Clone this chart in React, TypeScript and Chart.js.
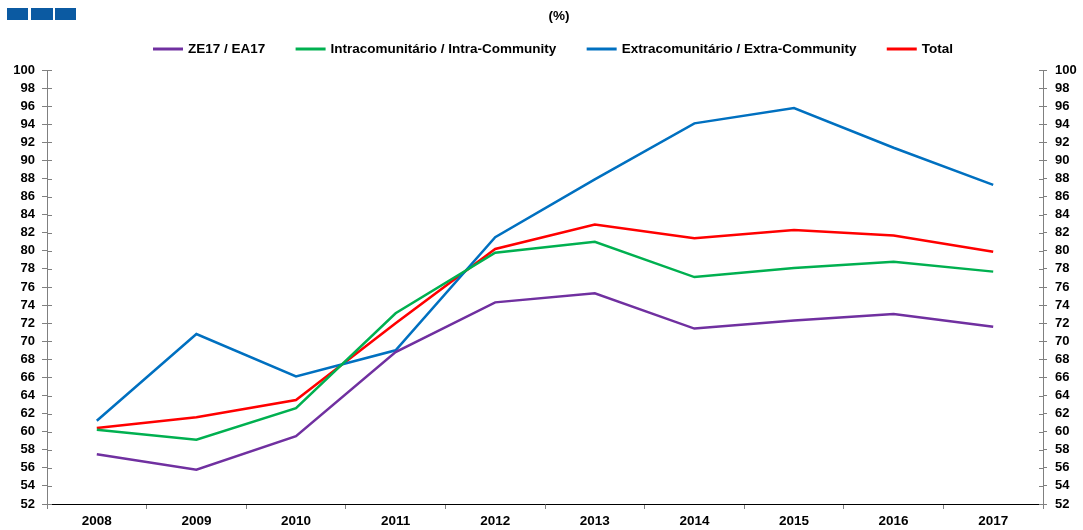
import React, { useEffect, useRef } from "react";
import { Chart, registerables } from "chart.js";

Chart.register(...registerables);

const years = ["2008", "2009", "2010", "2011", "2012", "2013", "2014", "2015", "2016", "2017"];
const ze17 = [57.5, 55.8, 59.5, 68.8, 74.3, 75.3, 71.4, 72.3, 73.0, 71.6];
const intra = [60.2, 59.1, 62.6, 73.1, 79.8, 81.0, 77.1, 78.1, 78.8, 77.7];
const extra = [61.2, 70.8, 66.1, 69.0, 81.5, 87.9, 94.1, 95.8, 91.4, 87.3];
const total = [60.4, 61.6, 63.5, 72.0, 80.2, 82.9, 81.4, 82.3, 81.7, 79.9];

const seriesLabels = [
  "ZE17 / EA17",
  "Intracomunitário / Intra-Community",
  "Extracomunitário / Extra-Community",
  "Total",
];
const seriesColors = ["#7030A0", "#00B050", "#0070C0", "#FF0000"];
const titleText = "(%)";

const FONT = "'Liberation Sans', Arial, sans-serif";
const FS = 13.5;
const TICK_FS = 13;

const innerTicks = {
  id: "innerTicks",
  afterDatasetsDraw(chart: any) {
    const ctx = chart.ctx;
    ctx.save();
    ctx.strokeStyle = "#808080";
    ctx.lineWidth = 1;
    const yl = chart.scales.y;
    const yr = chart.scales.y2;
    const left = chart.chartArea.left;
    const right = chart.chartArea.right;
    yl.ticks.forEach((t: any, i: number) => {
      const py = Math.round(yl.getPixelForTick(i)) + 0.5;
      ctx.beginPath();
      ctx.moveTo(left, py);
      ctx.lineTo(left + 5, py);
      ctx.stroke();
    });
    yr.ticks.forEach((t: any, i: number) => {
      const py = Math.round(yr.getPixelForTick(i)) + 0.5;
      ctx.beginPath();
      ctx.moveTo(right, py);
      ctx.lineTo(right - 4, py);
      ctx.stroke();
    });
    ctx.restore();
  },
};

// Title and legend drawn in the header band above the plot area
const header = {
  id: "header",
  afterDraw(chart: any) {
    const ctx = chart.ctx;
    ctx.save();
    ctx.font = `bold ${FS}px ${FONT}`;
    ctx.fillStyle = "#000";
    ctx.textBaseline = "middle";
    ctx.textAlign = "center";
    ctx.fillText(titleText, 559, 16);

    const ds = chart.data.datasets;
    const lineW = 30;
    const textGap = 5;
    const startX = 153;
    const endX = 953;
    const widths = ds.map((d: any) => ctx.measureText(d.label).width);
    const sum = widths.reduce((a: number, b: number) => a + b, 0) + ds.length * (lineW + textGap);
    const gap = (endX - startX - sum) / (ds.length - 1);
    let x = startX;
    const y = 49;
    ctx.textAlign = "left";
    ds.forEach((d: any, i: number) => {
      ctx.strokeStyle = d.borderColor;
      ctx.lineWidth = 3;
      ctx.beginPath();
      ctx.moveTo(x, y);
      ctx.lineTo(x + lineW, y);
      ctx.stroke();
      ctx.fillStyle = "#000";
      ctx.fillText(d.label, x + lineW + textGap, y + 0.5);
      x += lineW + textGap + widths[i] + gap;
    });
    ctx.restore();
  },
};

export default function App() {
  const ref = useRef<HTMLCanvasElement | null>(null);

  useEffect(() => {
    if (!ref.current) return;
    const datasets = [ze17, intra, extra, total].map((d, i) => ({
      label: seriesLabels[i],
      data: d,
      borderColor: seriesColors[i],
      backgroundColor: seriesColors[i],
      borderWidth: 2.5,
      pointRadius: 0,
      tension: 0,
      yAxisID: "y",
    }));
    const tickFont = { family: FONT, size: TICK_FS, weight: "bold" };
    const chart = new Chart(ref.current, {
      type: "line",
      data: { labels: years, datasets },
      options: {
        animation: false,
        responsive: true,
        maintainAspectRatio: false,
        layout: { padding: { left: 0, right: 0, top: 70, bottom: 0 } },
        plugins: {
          tooltip: { enabled: false },
          title: { display: false },
          legend: { display: false },
        },
        scales: {
          x: {
            type: "category",
            offset: true,
            afterFit(scale: any) {
              scale.height = 26;
            },
            grid: {
              display: true,
              drawOnChartArea: false,
              drawTicks: true,
              tickLength: 5,
              color: "#808080",
              offset: true,
            },
            border: { display: true, color: "#000", width: 1 },
            ticks: {
              color: "#000",
              font: { family: FONT, size: FS, weight: "bold" },
              padding: 4,
              maxRotation: 0,
              autoSkip: false,
            },
          },
          y: {
            type: "linear",
            position: "left",
            min: 52,
            max: 100,
            afterFit(scale: any) {
              scale.width = 47;
            },
            grid: {
              display: true,
              drawOnChartArea: false,
              drawTicks: true,
              tickLength: 5,
              color: "#808080",
            },
            border: { display: true, color: "#808080", width: 1 },
            ticks: {
              stepSize: 2,
              autoSkip: false,
              color: "#000",
              font: tickFont,
              padding: 7,
            },
          },
          y2: {
            type: "linear",
            position: "right",
            min: 52,
            max: 100,
            afterFit(scale: any) {
              scale.width = 40;
            },
            grid: {
              display: true,
              drawOnChartArea: false,
              drawTicks: true,
              tickLength: 4,
              color: "#808080",
            },
            border: { display: true, color: "#808080", width: 1 },
            ticks: {
              stepSize: 2,
              autoSkip: false,
              color: "#000",
              font: tickFont,
              padding: 8,
            },
          },
        },
      },
      plugins: [innerTicks, header],
    } as any);
    return () => chart.destroy();
  }, []);

  const sq = (left: number, width: number) => (
    <div
      style={{
        position: "absolute",
        left,
        top: 8,
        width,
        height: 12,
        background: "#0B5AA2",
      }}
    />
  );

  return (
    <div style={{ position: "absolute", left: 0, top: 0, width: 1083, height: 530, background: "#fff" }}>
      <canvas ref={ref} />
      {sq(7, 21)}
      {sq(31, 22)}
      {sq(55, 21)}
    </div>
  );
}
